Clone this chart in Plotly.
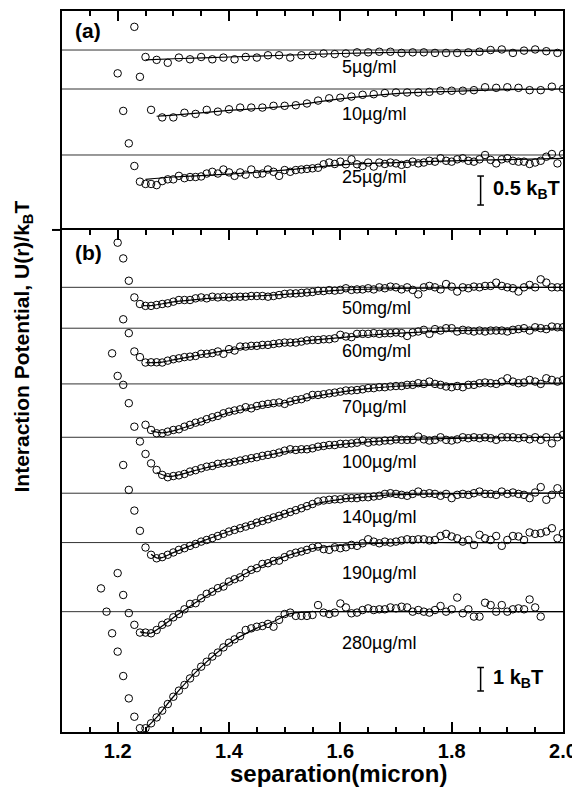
import plotly.graph_objects as go

# ---------------- data ----------------
tick_vals = [1.2, 1.4, 1.6, 1.8, 2.0]
tick_text = ["1.2", "1.4", "1.6", "1.8", "2.0"]

r_grid = [1.24, 1.25, 1.26, 1.27, 1.28, 1.29, 1.30, 1.31, 1.32, 1.33, 1.34, 1.35, 1.36, 1.37,
          1.38, 1.39, 1.40, 1.41, 1.42, 1.43, 1.44, 1.45, 1.46, 1.47, 1.48, 1.49, 1.50, 1.51,
          1.52, 1.53, 1.54, 1.55, 1.56, 1.57, 1.58, 1.59, 1.60, 1.61, 1.62, 1.63, 1.64, 1.65,
          1.66, 1.67, 1.68, 1.69, 1.70, 1.71, 1.72, 1.73, 1.74, 1.75, 1.76, 1.77, 1.78, 1.79,
          1.80, 1.81, 1.82, 1.83, 1.84, 1.85, 1.86, 1.87, 1.88, 1.89, 1.90, 1.91, 1.92, 1.93,
          1.94, 1.95, 1.96, 1.97, 1.98, 1.99, 2.00]

# panel (a)
labels_a = ["5\u00b5g/ml", "10\u00b5g/ml", "25\u00b5g/ml"]

r_a5 = [1.23, 1.25, 1.27, 1.29, 1.31, 1.33, 1.35, 1.37, 1.39, 1.41, 1.43, 1.45, 1.47, 1.49, 1.51,
        1.53, 1.55, 1.57, 1.59, 1.61, 1.63, 1.65, 1.67, 1.69, 1.71, 1.73, 1.75, 1.77, 1.79, 1.81,
        1.83, 1.85, 1.87, 1.89, 1.91, 1.93, 1.95, 1.97, 1.99]
u_a5 = [0.40, -0.12, -0.17, -0.22, -0.13, -0.16, -0.12, -0.16, -0.13, -0.16, -0.12, -0.13, -0.09,
        -0.09, -0.13, -0.09, -0.09, -0.06, -0.07, -0.06, -0.04, -0.04, -0.03, -0.03, -0.05, -0.04,
        -0.04, -0.05, -0.05, -0.05, -0.04, -0.03, 0.00, 0.01, -0.05, -0.01, 0.01, -0.02, -0.05]

r_a10 = [1.20, 1.24, 1.26, 1.28, 1.30, 1.32, 1.34, 1.36, 1.38, 1.40, 1.42, 1.44, 1.46, 1.48, 1.50,
         1.52, 1.54, 1.56, 1.58, 1.60, 1.62, 1.64, 1.66, 1.68, 1.70, 1.72, 1.74, 1.76, 1.78, 1.80,
         1.82, 1.84, 1.86, 1.88, 1.90, 1.92, 1.94, 1.96, 1.98, 2.00]
u_a10 = [0.27, 0.21, -0.36, -0.49, -0.49, -0.41, -0.43, -0.36, -0.39, -0.35, -0.32, -0.32, -0.32,
         -0.29, -0.29, -0.28, -0.25, -0.20, -0.16, -0.15, -0.13, -0.10, -0.09, -0.07, -0.06, -0.06,
         -0.06, -0.05, -0.03, -0.03, -0.03, -0.02, 0.03, 0.02, 0.03, 0.02, -0.02, -0.02, 0.04, 0.00]

wall_r_a25 = [1.21, 1.22, 1.23]
wall_u_a25 = [0.76, 0.20, -0.19]
u_a25 = [-0.46, -0.50, -0.50, -0.52, -0.45, -0.42, -0.42, -0.36, -0.40, -0.38, -0.38, -0.37, -0.32,
         -0.29, -0.32, -0.25, -0.30, -0.36, -0.30, -0.34, -0.25, -0.33, -0.32, -0.25, -0.29, -0.36,
         -0.26, -0.29, -0.26, -0.25, -0.24, -0.23, -0.22,
         -0.16, -0.13, -0.155, -0.115, -0.16, -0.075, -0.16, -0.19, -0.13, -0.20, -0.13, -0.155,
         -0.13, -0.145, -0.17, -0.155, -0.115, -0.145, -0.13, -0.10, -0.115, -0.057, -0.10, -0.115,
         -0.075, -0.057, -0.10, -0.115, -0.075, 0.00, -0.085, -0.145, -0.075, -0.057, -0.10, -0.115,
         -0.115, -0.155, -0.13, -0.10, -0.03, 0.017, -0.145, 0.017]

fit_r_a5 = [1.25, 1.30, 1.40, 1.50, 1.60, 1.70, 1.80, 1.90, 2.00]
fit_u_a5 = [-0.17, -0.15, -0.12, -0.09, -0.06, -0.04, -0.03, -0.015, -0.01]
fit_r_a10 = [1.27, 1.30, 1.40, 1.50, 1.60, 1.70, 1.80, 1.90, 2.00]
fit_u_a10 = [-0.47, -0.45, -0.37, -0.30, -0.17, -0.08, -0.04, -0.01, 0.00]
fit_r_a25 = [1.25, 1.30, 1.40, 1.50, 1.60, 1.70, 1.80, 1.90, 2.00]
fit_u_a25 = [-0.42, -0.38, -0.33, -0.26, -0.17, -0.13, -0.10, -0.08, -0.06]

# panel (b)
labels_b = ["50mg/ml", "60mg/ml", "70\u00b5g/ml", "100\u00b5g/ml", "140\u00b5g/ml",
            "190\u00b5g/ml", "280\u00b5g/ml"]

wall_r_50 = [1.20, 1.21, 1.22, 1.23]
wall_u_50 = [1.90, 1.23, 0.28, -0.43]
u_50 = [-0.71, -0.79, -0.79, -0.75, -0.71, -0.68, -0.61, -0.54, -0.54, -0.54, -0.47, -0.43, -0.47,
        -0.40, -0.43, -0.40, -0.43, -0.40, -0.40, -0.40, -0.37, -0.37, -0.37, -0.40, -0.37, -0.33,
        -0.28, -0.26, -0.26, -0.24, -0.22, -0.20,
        -0.15, -0.16, -0.12, -0.14, -0.11, -0.04, -0.11, -0.09, -0.09, -0.04, -0.09, 0.00, -0.04,
        0.03, 0.00, -0.09, 0.00, -0.11, -0.30, 0.00, 0.06, 0.00, -0.09, 0.14, 0.03, -0.18, 0.00,
        -0.04, 0.03, 0.00, 0.06, 0.06, 0.20, 0.06, 0.00, -0.04, -0.18, 0.00, 0.10, 0.00, 0.34,
        0.20, 0.00, 0.00, 0.00]

wall_r_60 = [1.21, 1.22, 1.23, 1.24]
wall_u_60 = [0.38, -0.21, -0.99, -1.23]
u_60 = [-1.46, -1.45, -1.45, -1.46, -1.38, -1.32, -1.28, -1.23, -1.21, -1.18, -1.09, -1.09, -1.06,
        -0.99, -1.09, -0.89, -0.95, -0.78, -0.78, -0.75, -0.75, -0.71, -0.71, -0.67, -0.64, -0.61,
        -0.61, -0.61, -0.57, -0.52, -0.50,
        -0.50, -0.47, -0.47, -0.43, -0.28, -0.35, -0.38, -0.24, -0.24, -0.24, -0.21, -0.24, -0.21,
        -0.21, -0.18, -0.21, -0.33, -0.18, -0.14, -0.07, -0.24, -0.04, -0.10, 0.00, 0.00, -0.14,
        -0.07, -0.10, -0.14, -0.10, -0.14, -0.10, -0.10, -0.10, -0.14, -0.07, -0.04, 0.00, -0.10,
        0.04, 0.00, -0.04, 0.07, 0.04, 0.04]

wall_r_70 = [1.19, 1.20, 1.21, 1.22, 1.23]
wall_u_70 = [1.30, 0.34, -0.04, -0.82, -1.82]
u_70 = [-1.74, -1.96, -2.10, -2.10, -2.03, -1.96, -1.93, -1.82, -1.74, -1.65, -1.60, -1.50, -1.42,
        -1.36, -1.25, -1.18, -1.13, -1.08, -0.99, -1.04, -0.94, -0.89, -0.85, -0.82, -0.79, -0.85,
        -0.75, -0.68, -0.65, -0.57, -0.47,
        -0.47, -0.44, -0.40, -0.37, -0.33, -0.28, -0.28, -0.26, -0.23, -0.18, -0.18, -0.14, -0.14,
        -0.11, -0.09, -0.09, -0.04, -0.04, 0.03, 0.00, 0.10, 0.00, -0.04, -0.11, -0.14, -0.09,
        -0.14, -0.04, -0.04, 0.03, 0.06, 0.03, 0.00, 0.10, 0.24, 0.10, 0.03, 0.06, 0.17, 0.10,
        0.00, 0.24, 0.17, 0.10, 0.17]

wall_r_100 = [1.24, 1.25]
wall_u_100 = [-0.18, -0.71]
u_100 = [-1.11, -1.39, -1.60, -1.70, -1.65, -1.62, -1.56, -1.46, -1.40, -1.32, -1.25, -1.22, -1.13,
         -1.11, -1.08, -1.04, -0.99, -0.94, -0.89, -0.85, -0.79, -0.75, -0.71, -0.65, -0.57, -0.51,
         -0.54, -0.51, -0.51, -0.47,
         -0.40, -0.37, -0.33, -0.33, -0.28, -0.28, -0.26, -0.23, -0.14, -0.23, -0.18, -0.18, -0.14,
         -0.14, -0.09, -0.11, -0.11, -0.11, 0.03, -0.09, -0.14, -0.11, 0.00, -0.11, -0.14, -0.09,
         0.00, -0.04, 0.00, -0.04, 0.00, -0.04, -0.11, 0.00, 0.00, 0.00, -0.04, 0.00, -0.09, 0.00,
         -0.11, 0.00, -0.26, 0.00, 0.10]

wall_r_140 = [1.21, 1.22, 1.23, 1.24]
wall_u_140 = [1.20, 0.14, -0.74, -1.60]
u_140 = [-2.31, -2.62, -2.77, -2.72, -2.62, -2.52, -2.41, -2.34, -2.24, -2.16, -2.06, -1.99, -1.91,
         -1.82, -1.73, -1.63, -1.56, -1.49, -1.42, -1.35, -1.25, -1.18, -1.11, -1.03, -0.96, -0.88,
         -0.80, -0.72, -0.64, -0.55, -0.46,
         -0.35, -0.31, -0.28, -0.26, -0.26, -0.21, -0.21, -0.21, -0.17, -0.17, -0.14, -0.11, -0.03,
         0.00, -0.03, -0.07, -0.11, -0.03, 0.07, -0.03, 0.00, -0.03, -0.11, -0.03, -0.21, -0.07,
         -0.03, -0.07, 0.00, 0.07, -0.03, -0.03, -0.07, 0.07, -0.03, 0.03, -0.03, -0.07, -0.21,
         0.03, 0.26, -0.28, -0.07, 0.21, -0.03]

wall_r_190 = [1.20, 1.21, 1.22, 1.23]
wall_u_190 = [-1.30, -2.23, -3.00, -3.50]
u_190 = [-3.83, -3.83, -3.86, -3.72, -3.50, -3.40, -3.18, -3.04, -2.84, -2.61, -2.58, -2.37, -2.18,
         -2.09, -1.94, -1.87, -1.66, -1.56, -1.48, -1.30, -1.16, -1.09, -0.91, -0.88, -0.78, -0.77,
         -0.62, -0.50, -0.43, -0.38, -0.31, -0.22,
         -0.17, -0.28, -0.31, -0.20, -0.24, -0.20, -0.10, -0.14, -0.03, 0.14, 0.04, -0.03, 0.04,
         0.00, 0.04, 0.09, 0.14, 0.11, 0.14, 0.14, 0.09, 0.11, 0.28, 0.37, 0.26, 0.18, 0.04, 0.11,
         -0.10, 0.33, 0.18, 0.11, 0.28, -0.14, 0.11, 0.28, 0.26, 0.11, 0.43, 0.37, 0.40, 0.47,
         0.61, 0.18, 0.40]

wall_r_280 = [1.17, 1.18, 1.19, 1.20, 1.21, 1.22, 1.23]
wall_u_280 = [0.99, 0.00, -0.92, -1.70, -2.74, -3.69, -4.47]
u_280 = [-4.96, -4.96, -4.75, -4.50, -4.21, -3.93, -3.62, -3.36, -3.12, -2.84, -2.60, -2.34, -2.13,
         -1.91, -1.74, -1.52, -1.32, -1.18, -1.04, -0.78, -0.71, -0.64, -0.61, -0.52, -0.64, -0.35,
         -0.10, -0.04, -0.18, -0.18, -0.18, -0.14,
         0.28, -0.04, -0.10, -0.04, 0.35, 0.18, -0.07, -0.04, 0.07, 0.14, 0.07, 0.10, 0.10, 0.18,
         0.14, 0.21, 0.18, 0.00, 0.07, 0.00, -0.04, 0.07, 0.24, 0.00, 0.10, 0.60, -0.07, 0.10,
         -0.21, -0.21, 0.38, 0.28, 0.00, 0.28, 0.00, 0.10, 0.14, 0.10, 0.52, 0.18, -0.21]

main_start_b = [1.24, 1.25, 1.25, 1.26, 1.25, 1.24, 1.24]

fit_r_50 = [1.245, 1.26, 1.30, 1.35, 1.40, 1.45, 1.50, 1.55, 1.60, 1.70, 1.80, 1.90, 2.00]
fit_u_50 = [-0.78, -0.78, -0.62, -0.50, -0.43, -0.37, -0.30, -0.21, -0.12, -0.05, -0.02, 0.0, 0.0]
fit_r_60 = [1.25, 1.28, 1.30, 1.35, 1.40, 1.45, 1.50, 1.55, 1.60, 1.65, 1.70, 1.80, 1.90, 2.00]
fit_u_60 = [-1.47, -1.44, -1.35, -1.13, -0.93, -0.77, -0.64, -0.51, -0.40, -0.30, -0.22, -0.11,
            -0.06, -0.03]
fit_r_70 = [1.26, 1.28, 1.30, 1.35, 1.40, 1.45, 1.50, 1.55, 1.60, 1.65, 1.70, 1.80, 1.90, 2.00]
fit_u_70 = [-2.0, -2.08, -2.0, -1.62, -1.22, -0.98, -0.80, -0.55, -0.35, -0.20, -0.10, -0.03,
            0.02, 0.03]
fit_r_100 = [1.27, 1.29, 1.30, 1.35, 1.40, 1.45, 1.50, 1.55, 1.60, 1.65, 1.70, 1.80, 1.90, 2.00]
fit_u_100 = [-1.5, -1.66, -1.65, -1.35, -1.08, -0.86, -0.62, -0.46, -0.31, -0.20, -0.12, -0.05,
             -0.02, 0.0]
fit_r_140 = [1.26, 1.27, 1.28, 1.30, 1.35, 1.40, 1.45, 1.50, 1.55, 1.60, 1.65, 1.70, 1.80, 1.90,
             2.00]
fit_u_140 = [-2.6, -2.75, -2.74, -2.53, -2.06, -1.63, -1.25, -0.88, -0.48, -0.26, -0.15, -0.06,
             -0.02, 0.0, 0.0]
fit_r_190 = [1.24, 1.26, 1.28, 1.30, 1.35, 1.40, 1.45, 1.50, 1.55, 1.60, 1.65, 1.70, 1.80, 1.90,
             2.00]
fit_u_190 = [-3.8, -3.85, -3.55, -3.2, -2.4, -1.7, -1.08, -0.60, -0.26, -0.12, -0.05, 0.0, 0.0,
             0.0, 0.0]
fit_r_280 = [1.25, 1.27, 1.30, 1.35, 1.40, 1.45, 1.48, 1.51, 1.55, 1.60, 1.70, 1.80, 1.90, 2.00]
fit_u_280 = [-4.98, -4.5, -3.62, -2.35, -1.35, -0.70, -0.42, -0.08, 0.0, 0.0, 0.0, 0.0, 0.0, 0.0]

# ---------------- layout constants ----------------
offset_a = [3.103, 2.431, 1.293]
offset_b = [18.92, 17.18, 14.81, 12.54, 10.16, 8.06, 5.12]
label_y_a = [2.81, 2.00, 0.914]
label_y_b = [18.04, 16.23, 13.84, 11.50, 9.16, 6.75, 3.77]
SPLIT = 0.6963
FONT = "Liberation Sans, Arial, sans-serif"

fig = go.Figure()

mk = dict(symbol="circle-open", size=7.5, color="black", line=dict(width=1, color="black"))
ln = dict(color="black", width=1.2, shape="spline", smoothing=0.8)


def add_pts(r, u, off, xa, ya):
    fig.add_trace(go.Scatter(x=r, y=[off + v for v in u], mode="markers", marker=mk,
                             xaxis=xa, yaxis=ya, showlegend=False, hoverinfo="skip"))


def add_fit(r, u, off, xa, ya):
    fig.add_trace(go.Scatter(x=r, y=[off + v for v in u], mode="lines", line=ln,
                             xaxis=xa, yaxis=ya, showlegend=False, hoverinfo="skip"))


# baselines
shapes = []
for off in offset_a:
    shapes.append(dict(type="line", xref="x2", yref="y2", x0=1.1, x1=2.0, y0=off, y1=off,
                       line=dict(color="#333333", width=1), layer="below"))
for off in offset_b:
    shapes.append(dict(type="line", xref="x", yref="y", x0=1.1, x1=2.0, y0=off, y1=off,
                       line=dict(color="#333333", width=1), layer="below"))

# panel (a)
add_fit(fit_r_a5, fit_u_a5, offset_a[0], "x2", "y2")
add_fit(fit_r_a10, fit_u_a10, offset_a[1], "x2", "y2")
add_fit(fit_r_a25, fit_u_a25, offset_a[2], "x2", "y2")
add_pts(r_a5, u_a5, offset_a[0], "x2", "y2")
add_pts(r_a10, u_a10, offset_a[1], "x2", "y2")
add_pts(wall_r_a25 + r_grid[:len(u_a25)], wall_u_a25 + u_a25, offset_a[2], "x2", "y2")

# panel (b)
walls_r = [wall_r_50, wall_r_60, wall_r_70, wall_r_100, wall_r_140, wall_r_190, wall_r_280]
walls_u = [wall_u_50, wall_u_60, wall_u_70, wall_u_100, wall_u_140, wall_u_190, wall_u_280]
mains = [u_50, u_60, u_70, u_100, u_140, u_190, u_280]
fits_r = [fit_r_50, fit_r_60, fit_r_70, fit_r_100, fit_r_140, fit_r_190, fit_r_280]
fits_u = [fit_u_50, fit_u_60, fit_u_70, fit_u_100, fit_u_140, fit_u_190, fit_u_280]
for i in range(7):
    add_fit(fits_r[i], fits_u[i], offset_b[i], "x", "y")
    k = r_grid.index(main_start_b[i])
    xs = walls_r[i] + r_grid[k:k + len(mains[i])]
    add_pts(xs, walls_u[i] + mains[i], offset_b[i], "x", "y")

# scale bars
for xr, yr, y0, y1 in [("x2", "y2", 0.43, 0.93), ("x", "y", 1.745, 2.745)]:
    shapes.append(dict(type="line", xref=xr, yref=yr, x0=1.852, x1=1.852, y0=y0, y1=y1,
                       line=dict(color="black", width=1.5)))
    for yy in (y0, y1):
        shapes.append(dict(type="line", xref=xr, yref=yr, x0=1.846, x1=1.858, y0=yy, y1=yy,
                           line=dict(color="black", width=1.5)))

# short outer tick at panel boundary
shapes.append(dict(type="line", xref="paper", yref="paper", x0=-0.02, x1=0, y0=SPLIT, y1=SPLIT,
                   line=dict(color="black", width=2)))

ann = []
for lab, yy in zip(labels_a, label_y_a):
    ann.append(dict(text=lab, x=1.6, y=yy, xref="x2", yref="y2", xanchor="left",
                    yanchor="middle", showarrow=False, font=dict(family=FONT, size=18, color="black")))
for lab, yy in zip(labels_b, label_y_b):
    ann.append(dict(text=lab, x=1.6, y=yy, xref="x", yref="y", xanchor="left",
                    yanchor="middle", showarrow=False, font=dict(family=FONT, size=18, color="black")))
ann.append(dict(text="<b>0.5 k<sub>B</sub>T</b>", x=1.871, y=0.69, xref="x2", yref="y2",
                xanchor="left", yanchor="middle", showarrow=False,
                font=dict(family=FONT, size=20, color="black")))
ann.append(dict(text="<b>1 k<sub>B</sub>T</b>", x=1.871, y=2.285, xref="x", yref="y",
                xanchor="left", yanchor="middle", showarrow=False,
                font=dict(family=FONT, size=20, color="black")))
ann.append(dict(text="<b>(a)</b>", x=0.022, y=0.9727, xref="paper", yref="paper",
                xanchor="left", yanchor="middle", showarrow=False,
                font=dict(family=FONT, size=21, color="black")))
ann.append(dict(text="<b>(b)</b>", x=0.022, y=0.6644, xref="paper", yref="paper",
                xanchor="left", yanchor="middle", showarrow=False,
                font=dict(family=FONT, size=21, color="black")))
ann.append(dict(text="<b>separation(micron)</b>", x=0.551, y=-0.0569, xref="paper",
                yref="paper", xanchor="center", yanchor="middle", showarrow=False,
                font=dict(family=FONT, size=24, color="black")))
ann.append(dict(text="<b>Interaction Potential, U(r)/k<sub>B</sub>T</b>", x=-0.0788, y=0.534,
                xref="paper", yref="paper", xanchor="center", yanchor="middle",
                textangle=-90, showarrow=False, font=dict(family=FONT, size=21, color="black")))

minor = dict(dtick=0.05, tick0=1.1, ticks="inside", ticklen=5, tickwidth=1.5, tickcolor="black")
xcommon = dict(range=[1.1, 2.0], showgrid=False, zeroline=False, showline=True, linewidth=2,
               linecolor="black", ticks="inside", ticklen=10, tickwidth=1.5, tickcolor="black",
               tickvals=tick_vals, minor=minor)
ycommon = dict(showgrid=False, zeroline=False, showline=True, linewidth=2, linecolor="black",
               mirror=True, ticks="", showticklabels=False)

# the page body adds an 8 px margin, so the figure is 8 px smaller than the window
fig.update_layout(
    width=572, height=779,
    margin=dict(l=54, r=17, t=3, b=55),
    paper_bgcolor="white", plot_bgcolor="white",
    xaxis=dict(**xcommon, domain=[0, 1], anchor="y", mirror="ticks",
               ticktext=["<b>%s</b>" % t for t in tick_text],
               tickfont=dict(family=FONT, size=20, color="black")),
    xaxis2=dict(**xcommon, domain=[0, 1], anchor="y2", side="top", matches="x",
                showticklabels=False),
    yaxis=dict(**ycommon, domain=[0, SPLIT], range=[0, 21.36]),
    yaxis2=dict(**ycommon, domain=[SPLIT, 1], range=[0, 3.776]),
    shapes=shapes, annotations=ann, showlegend=False,
)

fig.write_html("out.html")
